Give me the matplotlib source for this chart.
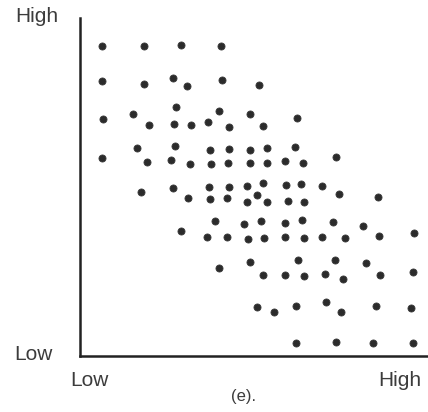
import matplotlib
matplotlib.use("Agg")
import matplotlib.pyplot as plt

# scatter values on a 0-100 scale (low -> high)
x_vals = [6.3, 18.4, 29.0, 40.5,
          6.3, 18.4, 26.7, 30.8, 40.8, 51.4,
          6.6, 15.2, 19.8, 27.6, 27.0, 31.9, 36.8, 39.9, 42.8, 48.9, 52.6, 62.4,
          6.3, 16.4, 19.3, 27.3, 26.1, 31.6, 37.4, 42.8, 37.6, 42.5, 48.9, 48.9,
          53.7, 53.7, 58.9, 64.1, 73.6, 61.8,
          17.5, 26.7, 37.1, 42.8, 48.0, 52.6, 31.0, 37.4, 42.2, 50.9, 59.2, 63.5,
          69.5, 48.0, 53.7, 59.8, 64.4, 74.4, 85.6,
          38.8, 47.1, 52.0, 58.9, 63.8, 72.7, 81.3, 29.0, 36.5, 42.2, 48.3, 52.9,
          58.9, 64.4, 69.5, 76.1, 85.9, 96.0,
          39.9, 48.9, 62.6, 73.3, 82.2, 52.6, 58.9, 64.4, 70.4, 75.6, 86.2, 95.7,
          50.9, 55.7, 62.1, 70.7, 75.0, 85.1, 95.1,
          62.1, 73.6, 84.2, 95.7]
y_vals = [91.7, 91.7, 92.0, 91.7,
          81.4, 80.5, 82.2, 79.9, 81.7, 80.2,
          70.1, 71.6, 68.3, 73.7, 68.6, 68.3, 69.2, 72.5, 67.8, 71.6, 68.0, 70.4,
          58.6, 61.5, 57.4, 62.1, 58.0, 56.8, 60.9, 61.2, 56.8, 57.1, 60.9, 57.1,
          61.5, 57.1, 57.7, 57.1, 58.9, 61.8,
          48.5, 49.7, 50.0, 50.0, 50.3, 51.2, 46.7, 46.4, 46.7, 47.6, 50.6, 50.9,
          50.3, 45.6, 45.6, 45.9, 45.6, 47.9, 47.0,
          39.9, 39.1, 39.9, 39.3, 40.2, 39.6, 38.5, 37.0, 35.2, 35.2, 34.6, 34.9,
          35.2, 34.9, 35.2, 34.9, 35.5, 36.4,
          26.0, 27.8, 28.4, 28.4, 27.5, 24.0, 24.0, 23.7, 24.3, 22.8, 24.0, 24.9,
          14.5, 13.0, 14.8, 16.0, 13.0, 14.8, 14.2,
          3.8, 4.1, 3.8, 3.8]

x_labels = ["Low", "High"]
y_labels = ["Low", "High"]
caption = "(e)."

W, H = 428, 412
fig = plt.figure(figsize=(W / 100, H / 100), dpi=100)
fig.patch.set_facecolor("white")

# axes box in pixels: left 80, right 428, top 18, bottom 356
ax = fig.add_axes([80 / W, (H - 356) / H, (W - 80) / W, (356 - 18) / H])
ax.scatter(x_vals, y_vals, s=26, color="#2b2b2b", edgecolors="#3a3a3a",
           linewidths=0.6, clip_on=False, zorder=3)
ax.set_xlim(0, 100)
ax.set_ylim(0, 100)
ax.set_xticks([])
ax.set_yticks([])
for side in ["top", "right"]:
    ax.spines[side].set_visible(False)
for side in ["left", "bottom"]:
    ax.spines[side].set_linewidth(1.8)
    ax.spines[side].set_color("#222222")

txt = dict(family="Liberation Sans", color="#3c3c3c", fontsize=15)
fig.text(58 / W, 1 - 17 / H, y_labels[1], ha="right", va="center", **txt)
fig.text(53 / W, 1 - 355 / H, y_labels[0], ha="right", va="center", **txt)
fig.text(70 / W, 1 - 381 / H, x_labels[0], ha="left", va="center", **txt)
fig.text(421 / W, 1 - 381 / H, x_labels[1], ha="right", va="center", **txt)
fig.text(243 / W, 1 - 397 / H, caption, ha="center", va="center",
         family="Liberation Sans", color="#3c3c3c", fontsize=12)

fig.savefig("out.png", dpi=100, facecolor="white")
